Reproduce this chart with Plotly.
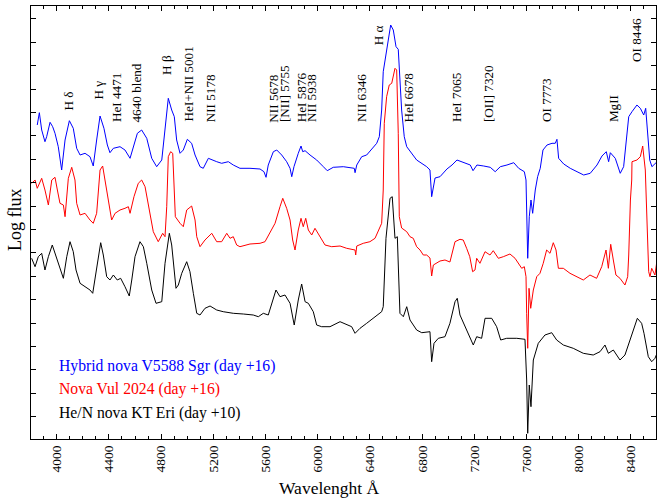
import plotly.graph_objects as go

# ---- data (wavelength in Angstrom, log flux in arbitrary offset units) ----
blue_wl = [3851, 3867, 3885, 3910, 3923, 3949, 3969, 3987, 4012, 4038, 4064, 4097, 4127, 4153, 4179,
           4217, 4255, 4280, 4306, 4332, 4362, 4388, 4408, 4434, 4485, 4523, 4562, 4587, 4618, 4651,
           4690, 4728, 4766, 4805, 4830, 4855, 4881, 4901, 4919, 4945, 4970, 5001, 5034, 5060, 5098,
           5123, 5162, 5188, 5226, 5264, 5315, 5353, 5404, 5481, 5558, 5588, 5604, 5621, 5660, 5686,
           5724, 5762, 5788, 5801, 5818, 5851, 5872, 5885, 5903, 5941, 5992, 6043, 6073, 6119, 6196,
           6280, 6286, 6299, 6337, 6375, 6426, 6452, 6472, 6490, 6502, 6523, 6541, 6559, 6579, 6600,
           6617, 6630, 6643, 6663, 6682, 6758, 6835, 6860, 6868, 6873, 6899, 6937, 6990, 7029, 7067,
           7118, 7169, 7190, 7220, 7272, 7322, 7360, 7399, 7450, 7502, 7540, 7583, 7596, 7603, 7609,
           7621, 7634, 7647, 7667, 7685, 7705, 7726, 7757, 7795, 7820, 7833, 7846, 7885, 7935, 7987,
           8038, 8088, 8140, 8178, 8211, 8229, 8242, 8280, 8318, 8344, 8370, 8383, 8408, 8446, 8472,
           8498, 8513, 8528, 8544, 8561, 8600]
blue_flux = [3.14, 3.263, 3.09, 2.973, 3.023, 3.167, 3.123, 3.057, 2.923, 2.69, 2.99, 3.183, 3.107, 2.907, 2.84,
             2.857, 2.823, 2.73, 2.99, 3.23, 3.107, 2.94, 2.863, 2.907, 2.923, 2.89, 2.807, 2.923, 3.057, 3.09,
             3.007, 2.807, 2.723, 2.79, 3.09, 3.407, 3.29, 3.223, 2.99, 2.857, 2.89, 2.997, 2.957, 2.84, 2.723,
             2.707, 2.807, 2.79, 2.773, 2.757, 2.773, 2.74, 2.707, 2.707, 2.70, 2.673, 2.617, 2.74, 2.873, 2.89,
             2.84, 2.773, 2.707, 2.623, 2.723, 2.857, 2.93, 2.873, 2.883, 2.84, 2.79, 2.723, 2.683, 2.717, 2.723,
             2.707, 2.663, 2.74, 2.823, 2.84, 2.923, 2.957, 3.023, 3.29, 3.673, 3.857, 4.023, 4.14, 4.09, 3.923,
             3.897, 3.623, 3.29, 3.023, 2.923, 2.79, 2.723, 2.69, 2.557, 2.423, 2.61, 2.623, 2.70, 2.74, 2.79,
             2.763, 2.74, 2.683, 2.74, 2.73, 2.717, 2.673, 2.723, 2.74, 2.763, 2.707, 2.673, 2.59, 2.09, 1.807,
             2.223, 2.39, 2.257, 2.49, 2.623, 2.707, 2.89, 2.94, 2.957, 2.957, 2.997, 2.807, 2.75, 2.707, 2.673,
             2.64, 2.657, 2.74, 2.83, 2.873, 2.773, 2.863, 2.807, 2.657, 2.723, 3.057, 3.223, 3.273, 3.34, 3.307,
             3.24, 3.307, 3.09, 2.79, 2.723, 2.773]

red_wl = [3808, 3834, 3851, 3885, 3910, 3936, 3962, 3987, 4005, 4025, 4051, 4064, 4089, 4115, 4140,
          4153, 4179, 4217, 4255, 4280, 4306, 4332, 4352, 4370, 4395, 4421, 4447, 4485, 4523, 4549,
          4562, 4592, 4625, 4651, 4677, 4702, 4740, 4778, 4812, 4830, 4843, 4855, 4873, 4889, 4899,
          4909, 4945, 4970, 4996, 5034, 5060, 5073, 5098, 5136, 5188, 5226, 5264, 5303, 5328, 5353,
          5379, 5404, 5481, 5558, 5596, 5634, 5673, 5711, 5732, 5762, 5788, 5808, 5826, 5851, 5872,
          5889, 5908, 5928, 5954, 5979, 6017, 6056, 6107, 6171, 6222, 6286, 6291, 6299, 6349, 6400,
          6439, 6464, 6490, 6502, 6510, 6528, 6548, 6567, 6579, 6592, 6605, 6610, 6617, 6625, 6643,
          6682, 6707, 6732, 6758, 6784, 6809, 6835, 6860, 6873, 6886, 6937, 6975, 7013, 7052, 7090,
          7115, 7141, 7165, 7187, 7205, 7218, 7243, 7282, 7320, 7345, 7384, 7422, 7473, 7512, 7563,
          7583, 7596, 7601, 7609, 7619, 7632, 7652, 7678, 7703, 7728, 7754, 7780, 7805, 7826, 7844,
          7882, 7933, 7984, 8035, 8086, 8137, 8176, 8209, 8227, 8245, 8265, 8285, 8316, 8354, 8375,
          8383, 8396, 8406, 8408, 8446, 8472, 8490, 8510, 8523, 8536, 8546, 8559, 8584, 8600]
red_flux = [2.557, 2.59, 2.507, 2.607, 2.49, 2.34, 2.59, 2.617, 2.49, 2.357, 2.34, 2.223, 2.607, 2.717, 2.59,
            2.357, 2.24, 2.257, 2.19, 2.157, 2.257, 2.69, 2.73, 2.59, 2.357, 2.19, 2.257, 2.29, 2.307, 2.323,
            2.257, 2.423, 2.557, 2.59, 2.523, 2.357, 2.073, 1.973, 2.057, 2.023, 2.323, 2.823, 2.873, 2.857, 2.49,
            2.223, 2.157, 2.123, 2.29, 2.33, 2.19, 2.023, 1.923, 1.99, 2.057, 1.973, 1.973, 2.057, 2.007, 2.023,
            1.94, 1.923, 1.95, 1.957, 1.973, 2.057, 2.157, 2.323, 2.407, 2.307, 2.19, 1.99, 1.89, 2.09, 2.207,
            2.123, 2.207, 2.09, 2.04, 2.107, 2.023, 1.94, 1.923, 1.93, 1.907, 1.89, 1.84, 1.93, 1.957, 1.973,
            2.007, 2.09, 2.157, 2.49, 3.157, 3.423, 3.54, 3.557, 3.623, 3.707, 3.69, 3.423, 3.057, 2.223, 2.11,
            2.073, 2.023, 2.007, 1.923, 1.89, 1.84, 1.84, 1.81, 1.63, 1.74, 1.78, 1.79, 1.77, 1.973, 1.997,
            1.99, 1.907, 1.823, 1.673, 1.69, 1.807, 1.757, 1.873, 1.84, 1.883, 1.807, 1.823, 1.85, 1.807, 1.707,
            1.723, 1.623, 1.257, 0.907, 1.507, 1.307, 1.49, 1.623, 1.657, 1.757, 1.89, 1.857, 1.963, 1.89, 1.707,
            1.707, 1.657, 1.623, 1.59, 1.64, 1.607, 1.723, 1.89, 1.707, 1.947, 1.79, 1.64, 1.607, 1.54, 1.623,
            1.84, 2.39, 2.59, 2.773, 2.79, 2.823, 2.93, 2.69, 2.057, 1.673, 1.623, 1.707, 1.64, 1.79]

black_wl = [3808, 3834, 3859, 3885, 3910, 3936, 3966, 3987, 4025, 4051, 4077, 4102, 4127, 4148, 4179,
            4217, 4255, 4276, 4301, 4337, 4357, 4383, 4408, 4434, 4464, 4490, 4523, 4556, 4575, 4600,
            4638, 4664, 4690, 4728, 4761, 4805, 4830, 4863, 4881, 4899, 4914, 4932, 4958, 4996, 5021,
            5047, 5073, 5098, 5136, 5175, 5226, 5276, 5353, 5430, 5506, 5545, 5583, 5621, 5647, 5680,
            5711, 5749, 5788, 5820, 5851, 5877, 5903, 5928, 5966, 5992, 6030, 6094, 6171, 6222, 6260,
            6286, 6324, 6375, 6452, 6490, 6502, 6523, 6554, 6571, 6592, 6610, 6630, 6656, 6682, 6707,
            6758, 6797, 6860, 6873, 6891, 6924, 6975, 7013, 7052, 7069, 7090, 7141, 7192, 7218, 7256,
            7282, 7333, 7371, 7402, 7448, 7525, 7588, 7601, 7609, 7621, 7634, 7652, 7690, 7741, 7793,
            7831, 7882, 7958, 8035, 8111, 8163, 8201, 8227, 8265, 8316, 8354, 8393, 8423, 8449, 8482,
            8500, 8533, 8559, 8584, 8600]
black_flux = [1.807, 1.723, 1.823, 1.857, 1.69, 1.823, 1.94, 1.857, 1.723, 1.607, 1.823, 1.973, 1.873, 1.69, 1.557,
              1.523, 1.49, 1.457, 1.657, 1.963, 1.84, 1.623, 1.59, 1.64, 1.59, 1.607, 1.523, 1.43, 1.59, 1.823,
              1.973, 1.923, 1.757, 1.49, 1.357, 1.373, 1.757, 2.057, 1.94, 1.657, 1.507, 1.54, 1.657, 1.773, 1.673,
              1.457, 1.257, 1.24, 1.307, 1.33, 1.29, 1.273, 1.257, 1.25, 1.24, 1.223, 1.257, 1.24, 1.357, 1.49,
              1.423, 1.44, 1.357, 1.14, 1.39, 1.55, 1.373, 1.357, 1.273, 1.14, 1.123, 1.123, 1.173, 1.14, 1.123,
              1.057, 1.107, 1.157, 1.24, 1.273, 1.323, 2.007, 2.407, 2.423, 2.007, 2.023, 1.257, 1.223, 1.323, 1.19,
              1.09, 1.063, 1.073, 0.773, 0.957, 1.007, 1.023, 1.157, 1.373, 1.407, 1.24, 1.09, 0.94, 1.023, 1.007,
              1.207, 1.207, 1.123, 0.99, 1.007, 1.007, 0.997, 0.59, 0.057, 0.54, 0.323, 0.79, 0.957, 1.04, 1.063,
              0.99, 0.94, 0.907, 0.857, 0.84, 0.873, 0.94, 0.857, 0.89, 0.79, 0.84, 0.99, 1.107, 1.207, 1.157,
              1.057, 0.823, 0.773, 0.807, 0.857]

line_labels = ["H δ", "H γ", "HeI 4471", "4640 blend", "H β", "HeI+NII 5001", "NII 5178",
               "NII 5678", "[NII] 5755", "HeI 5876", "NII 5938", "NII 6346", "H α", "HeI 6678",
               "HeI 7065", "[OII] 7320", "OI 7773", "MgII", "OI 8446"]
label_wl = [4089, 4324, 4464, 4613, 4837, 5008, 5175, 5660, 5744, 5872, 5954, 6337, 6464, 6694,
            7065, 7307, 7754, 8265, 8444]
label_base = [3.273, 3.39, 3.157, 3.157, 3.63, 3.163, 3.157, 3.157, 3.157, 3.157, 3.157, 3.157, 3.93,
              3.157, 3.157, 3.157, 3.157, 3.157, 3.757]

series_names = ["Hybrid nova V5588 Sgr (day +16)", "Nova Vul 2024 (day +16)", "He/N nova KT Eri (day +10)"]
series_colors = ["#0000ff", "#ff0000", "#000000"]
x_ticks = [4000, 4400, 4800, 5200, 5600, 6000, 6400, 6800, 7200, 7600, 8000, 8400]

FONT = "Liberation Serif, Times New Roman, serif"

fig = go.Figure()
for wl, fl, name, col in zip([blue_wl, red_wl, black_wl], [blue_flux, red_flux, black_flux],
                             series_names, series_colors):
    fig.add_trace(go.Scatter(x=wl, y=fl, mode="lines", name=name,
                             line=dict(color=col, width=1), showlegend=False))

annotations = []
for txt, xw, yb in zip(line_labels, label_wl, label_base):
    annotations.append(dict(x=xw, y=yb, xref="x", yref="y", text=txt, textangle=-90,
                            showarrow=False, xanchor="center", yanchor="bottom",
                            font=dict(family=FONT, size=13.2, color="black"), borderpad=0))

legend_y = [0.1686, 0.1148, 0.0607]
for name, col, ly in zip(series_names, series_colors, legend_y):
    annotations.append(dict(x=0.042, y=ly, xref="paper", yref="paper", text=name, showarrow=False,
                            xanchor="left", yanchor="middle",
                            font=dict(family=FONT, size=15.7, color=col)))

annotations.append(dict(x=0.478, y=-0.113, xref="paper", yref="paper", text="Wavelenght Å",
                        showarrow=False, xanchor="center", yanchor="middle",
                        font=dict(family=FONT, size=17.5, color="black")))
annotations.append(dict(x=-0.0256, y=0.5058, xref="paper", yref="paper", text="Log flux",
                        textangle=-90, showarrow=False, xanchor="center", yanchor="middle",
                        font=dict(family=FONT, size=18, color="black")))

fig.update_layout(
    width=657, height=500,
    margin=dict(l=31, r=1, t=6, b=61),
    paper_bgcolor="white", plot_bgcolor="white",
    annotations=annotations,
    font=dict(family=FONT, color="black"),
)
fig.update_xaxes(range=[3803, 8592], tickvals=x_ticks, ticktext=[str(v) for v in x_ticks],
                 tickangle=-90, ticks="inside", ticklen=5, tickwidth=1, tickcolor="black",
                 showline=True, linecolor="black", linewidth=1, mirror="ticks",
                 showgrid=False, zeroline=False,
                 tickfont=dict(family=FONT, size=13.5, color="black"),
                 minor=dict(dtick=100, tick0=4000, ticks="inside", ticklen=3, tickcolor="black", showgrid=False))
fig.update_yaxes(range=[0, 4.33], tick0=0.223, dtick=0.234, showticklabels=False,
                 ticks="inside", ticklen=5, tickwidth=1, tickcolor="black",
                 showline=True, linecolor="black", linewidth=1, mirror="ticks",
                 showgrid=False, zeroline=False)

fig.write_html("out.html")
